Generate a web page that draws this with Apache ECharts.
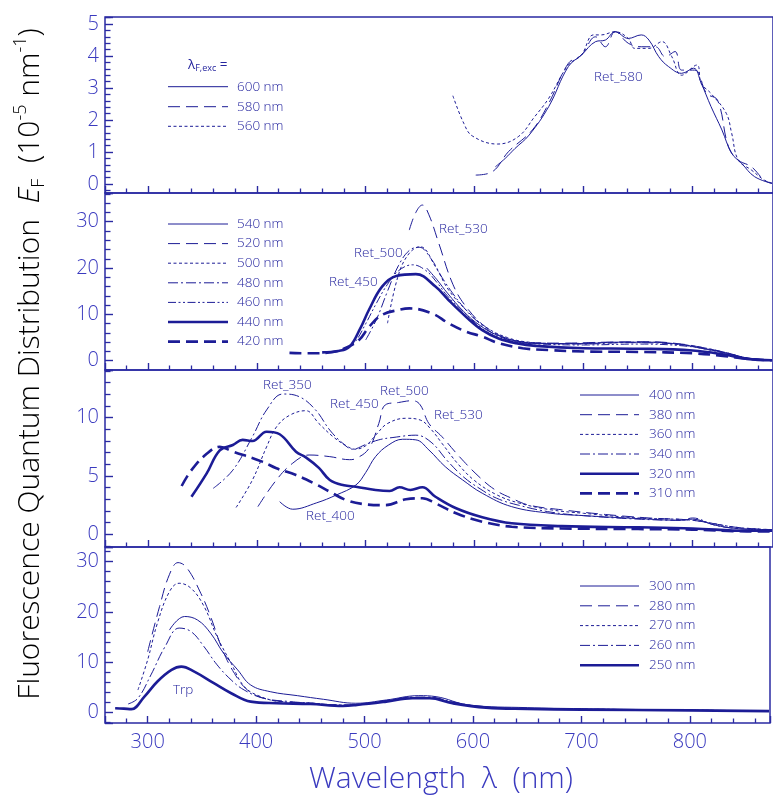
<!DOCTYPE html>
<html><head><meta charset="utf-8">
<script src="https://cdn.jsdelivr.net/npm/echarts@6/dist/echarts.min.js"></script>
<style>html,body{margin:0;padding:0;background:#fff}#c{width:773px;height:796px}</style>
</head><body><div id="c"></div>
<script>
// ---------- DATA (wavelength nm, E_F in 1e-5 nm^-1) ----------
const xTicks = [300, 400, 500, 600, 700, 800];
// Panel 1 (excitation 600 / 580 / 560 nm)
const p1_600 = [[619,0.54],[628,0.8],[637,1.11],[650,1.53],[668,2.42],[686,3.67],[698,4.03],[711,4.45],[720,4.5],[729,4.76],[741,4.55],[753,4.66],[760,4.5],[769,3.98],[778,3.67],[790,3.46],[801,3.62],[808,3.15],[817,2.42],[827,1.69],[836,0.96],[845,0.65],[857,0.23],[873,0.02]];
const p1_580 = [[601,0.28],[616,0.38],[631,1.01],[653,1.69],[668,2.52],[686,3.77],[698,4.03],[711,4.6],[720,4.29],[729,4.76],[741,4.4],[753,4.29],[766,4.29],[775,3.98],[784,4.14],[790,3.56],[802,3.56],[813,2.83],[823,2.62],[833,1.17],[842,0.75],[854,0.54],[866,0.12],[873,0.02]];
const p1_560 = [[580,2.76],[590,1.9],[598,1.5],[621,1.25],[640,1.48],[655,2.1],[668,2.68],[686,3.72],[698,4.03],[709,4.66],[716,4.66],[729,4.76],[741,4.55],[747,4.24],[760,4.24],[772,4.45],[781,3.98],[790,3.4],[804,3.72],[808,3.15],[817,2.83],[831,2.21],[836,1.58],[842,0.75],[854,0.44],[866,0.12],[873,0.03]];
// Panel 2 (excitation 540 ... 420 nm)
const p2_540 = [[556,20.0],[565,17.6],[575,14.6],[590,10.6],[605,7.6],[620,5.6],[640,4.2],[660,3.7],[700,3.7],[730,4.0],[760,4.0],[790,3.5],[810,2.6],[830,1.7],[850,0.6],[873,0.1]];
const p2_520 = [[540,28.2],[546,32.0],[552,33.6],[558,31.5],[567,25.4],[580,16.5],[592,11.7],[610,7.3],[630,4.8],[650,3.9],[680,3.8],[720,4.0],[760,4.1],[790,3.6],[810,2.8],[830,1.8],[850,0.6],[873,0.1]];
const p2_500 = [[520,8.1],[530,18.5],[540,23.2],[550,24.6],[564,20.3],[576,15.3],[592,11.0],[610,7.3],[630,5.0],[650,4.0],[680,3.7],[720,3.9],[760,4.0],[790,3.4],[810,2.6],[830,1.7],[850,0.5],[873,0.1]];
const p2_480 = [[500,4.5],[510,9.0],[520,15.0],[530,20.5],[540,23.8],[549,24.5],[560,22.0],[570,18.0],[580,14.5],[590,11.5],[600,9.0],[620,5.5],[640,4.2],[660,3.8],[700,3.6],[740,3.9],[770,3.8],[800,3.2],[830,1.8],[850,0.6],[873,0.1]];
const p2_460 = [[480,2.2],[490,4.0],[500,8.0],[510,12.5],[520,16.5],[530,19.4],[543,20.7],[555,19.5],[565,17.0],[575,14.0],[590,10.5],[605,7.3],[620,5.2],[640,4.0],[660,3.6],[700,3.4],[750,3.6],[800,3.0],[830,1.6],[850,0.5],[873,0.1]];
const p2_440 = [[460,1.8],[475,2.1],[485,3.0],[495,7.0],[503,11.0],[515,16.0],[528,18.3],[546,18.7],[564,16.0],[576,13.1],[592,9.5],[607,6.6],[622,4.8],[638,3.8],[656,3.2],[700,2.7],[750,2.6],[800,2.2],[830,1.3],[850,0.4],[873,0.1]];
const p2_420 = [[430,1.7],[450,1.6],[470,1.9],[482,2.8],[494,4.5],[503,7.3],[515,9.9],[531,11.0],[540,11.3],[561,10.2],[576,8.1],[592,6.3],[607,5.2],[622,3.8],[644,2.7],[668,2.3],[700,2.0],[750,1.9],[800,1.6],[830,1.0],[850,0.4],[873,0.1]];
// Panel 3 (excitation 400 ... 310 nm)
const p3_400 = [[421,2.8],[433,2.15],[455,2.7],[473,3.37],[491,4.23],[500,5.3],[509,6.66],[521,7.66],[534,8.15],[546,8.1],[558,7.23],[573,5.8],[589,4.66],[607,3.52],[634,2.37],[670,1.8],[700,1.6],[750,1.35],[790,1.2],[800,1.3],[820,0.8],[840,0.5],[873,0.35]];
const p3_380 = [[401,2.37],[418,4.66],[433,6.1],[448,6.8],[467,6.66],[485,6.4],[491,6.5],[503,7.37],[512,9.5],[518,11.1],[530,11.3],[543,11.46],[550,11.1],[558,9.5],[570,8.37],[586,6.66],[604,4.94],[619,3.8],[634,3.09],[650,2.5],[680,2.1],[720,1.7],[760,1.4],[800,1.2],[840,0.6],[873,0.4]];
const p3_360 = [[381,2.3],[396,4.66],[409,7.5],[418,9.2],[430,10.2],[445,10.6],[457,9.5],[470,8.37],[482,7.6],[490,7.3],[500,7.6],[510,8.6],[520,9.5],[537,9.95],[550,9.8],[560,9.0],[570,7.8],[585,6.0],[600,4.6],[620,3.4],[640,2.7],[670,2.1],[700,1.8],[750,1.4],[800,1.2],[840,0.6],[873,0.4]];
const p3_340 = [[360,3.94],[378,5.5],[396,8.37],[409,10.66],[424,12.03],[439,11.8],[454,10.66],[467,8.94],[479,7.8],[488,7.3],[500,7.7],[512,8.1],[525,8.3],[546,8.5],[560,7.9],[575,6.3],[590,4.9],[605,3.9],[620,3.1],[640,2.5],[670,1.9],[700,1.6],[750,1.3],[790,1.2],[800,1.4],[820,0.8],[840,0.5],[873,0.4]];
const p3_320 = [[340,3.22],[354,5.23],[366,7.2],[378,7.66],[387,8.1],[396,8.0],[409,8.8],[421,8.58],[436,7.08],[445,6.6],[457,5.7],[467,4.66],[480,4.2],[491,4.08],[509,3.8],[522,3.71],[531,4.03],[541,3.8],[552,4.03],[564,3.22],[583,2.23],[607,1.46],[634,0.94],[680,0.7],[750,0.6],[800,0.5],[850,0.3],[873,0.3]];
const p3_310 = [[331,4.14],[340,5.5],[354,6.9],[366,7.5],[378,7.1],[405,6.23],[418,5.66],[436,5.08],[454,4.3],[467,3.65],[482,2.94],[497,2.6],[518,2.5],[537,3.0],[552,3.09],[564,2.66],[583,1.8],[607,1.08],[634,0.65],[680,0.5],[750,0.45],[800,0.4],[850,0.25],[873,0.25]];
// Panel 4 (excitation 300 ... 250 nm)
const p4_300 = [[320,16.4],[334,19.1],[346,18.4],[358,15.8],[370,11.8],[383,8.5],[395,5.5],[413,4.17],[438,3.38],[462,2.66],[492,1.87],[520,2.52],[550,3.38],[566,3.18],[596,1.53],[650,1.0],[700,0.8],[800,0.5],[873,0.3]];
const p4_280 = [[300,12.1],[311,21.1],[320,27.4],[328,29.8],[336,28.8],[349,23.7],[358,19.1],[369,12.5],[380,7.8],[392,4.5],[407,2.86],[425,2.19],[450,1.9],[480,1.5],[492,1.6],[520,2.3],[545,3.0],[560,3.0],[580,2.1],[610,1.1],[650,0.8],[700,0.7],[800,0.5],[873,0.35]];
const p4_270 = [[291,4.5],[300,10.5],[309,17.8],[320,24.0],[329,25.7],[340,24.7],[352,21.1],[364,15.1],[377,9.8],[389,5.2],[404,3.2],[422,2.2],[450,1.9],[480,1.5],[492,1.6],[520,2.3],[545,3.0],[560,3.0],[580,2.1],[610,1.1],[650,0.8],[700,0.7],[800,0.5],[873,0.35]];
const p4_260 = [[282,1.73],[291,2.86],[303,7.5],[316,13.1],[329,16.8],[340,16.1],[352,13.1],[364,9.5],[377,6.5],[389,4.5],[407,2.86],[432,2.19],[450,1.9],[480,1.5],[492,1.6],[520,2.4],[545,3.1],[560,3.1],[580,2.2],[610,1.1],[650,0.8],[700,0.7],[800,0.5],[873,0.35]];
const p4_250 = [[270,0.87],[278,0.8],[285,0.7],[297,3.2],[309,6.2],[322,8.5],[331,9.15],[343,8.15],[361,5.85],[377,3.86],[395,2.19],[419,1.87],[450,1.73],[480,1.33],[493,1.53],[520,2.19],[544,2.86],[560,2.86],[581,1.87],[612,1.0],[650,0.75],[700,0.6],[800,0.45],[873,0.3]];

const panel1Labels = ['600 nm','580 nm','560 nm'];
const panel2Labels = ['540 nm','520 nm','500 nm','480 nm','460 nm','440 nm','420 nm'];
const panel3Labels = ['400 nm','380 nm','360 nm','340 nm','320 nm','310 nm'];
const panel4Labels = ['300 nm','280 nm','270 nm','260 nm','250 nm'];

// ---------- STYLE ----------
const LINE = '#1c1c96', TXT = '#24249e', AX = '#3a3abf', FRAME = '#2a2aa2';
const FONT = '"Open Sans", "Liberation Sans", sans-serif';
const STY = {
  thin:      {width: 1,   type: 'solid'},
  longdash:  {width: 1,   type: [12, 6]},
  shortdash: {width: 1,   type: [3, 2.5]},
  dashdot:   {width: 1,   type: [10, 3, 2, 3]},
  dashdotdot:{width: 1,   type: [8, 2.5, 2, 2.5, 2, 2.5]},
  thick:     {width: 2.6, type: 'solid'},
  thickdash: {width: 2.6, type: [12, 6]}
};
const panels = [
  {data:[p1_600,p1_580,p1_560], labels: panel1Labels, sty:['thin','longdash','shortdash'],
   min:-0.28, max:5.22, step:1},
  {data:[p2_540,p2_520,p2_500,p2_480,p2_460,p2_440,p2_420], labels: panel2Labels,
   sty:['thin','longdash','shortdash','dashdot','dashdotdot','thick','thickdash'],
   min:-2.0, max:36.2, step:10},
  {data:[p3_400,p3_380,p3_360,p3_340,p3_320,p3_310], labels: panel3Labels,
   sty:['thin','longdash','shortdash','dashdot','thick','thickdash'],
   min:-1.09, max:14.09, step:5},
  {data:[p4_300,p4_280,p4_270,p4_260,p4_250], labels: panel4Labels,
   sty:['thin','longdash','shortdash','dashdot','thick'],
   min:-2.05, max:32.9, step:10}
];
const gridTops = [17, 193, 370, 547], gridH = [176, 177, 177, 176];
const GL = 105, XMIN = 260.64, XMAX = 873.9, XSTEP = 100;

const grid = [], xAxis = [], yAxis = [], series = [];
panels.forEach((p, i) => {
  grid.push({left: GL, right: -2, top: gridTops[i], height: gridH[i], show: true,
    borderColor: FRAME, borderWidth: 1.5, backgroundColor: 'transparent'});
  const bottom = i === 3;
  xAxis.push({type:'value', gridIndex:i, position:'bottom', min:XMIN, max:XMAX, minInterval:XSTEP, maxInterval:XSTEP,
    axisLine:{show:false, onZero:false}, splitLine:{show:false},
    axisTick:{show:true, inside:true, length:7, lineStyle:{color:FRAME, width:1.4}},
    minorTick:{show:true, splitNumber:5, length:4.5, lineStyle:{color:FRAME, width:1.3}},
    minorSplitLine:{show:false},
    axisLabel:{show:bottom, margin:9, fontSize:20, color:AX, fontFamily:FONT, fontWeight:300,
      formatter: v => xTicks.includes(Math.round(v)) && Math.abs(v-Math.round(v))<1e-6 ? String(Math.round(v)) : ''}});
  yAxis.push({type:'value', gridIndex:i, position:'left', min:p.min, max:p.max, minInterval:p.step, maxInterval:p.step,
    axisLine:{show:false, onZero:false}, splitLine:{show:false},
    axisTick:{show:true, inside:true, length:8, lineStyle:{color:FRAME, width:1.4}},
    minorTick:{show:true, splitNumber:5, length:5.5, lineStyle:{color:FRAME, width:1.3}},
    minorSplitLine:{show:false},
    axisLabel:{margin:6, fontSize:20, color:AX, fontFamily:FONT, fontWeight:300,
      formatter: v => Math.abs(v/p.step - Math.round(v/p.step)) < 1e-6 ? String(Math.round(v)) : ''}});
  p.data.forEach((d, k) => {
    const s = STY[p.sty[k]];
    series.push({type:'line', name: 'P' + (i+1) + ' ' + p.labels[k], xAxisIndex:i, yAxisIndex:i,
      data:d, showSymbol:false, symbol:'none', smooth:0.4, silent:true,
      z: 3, lineStyle:{color:LINE, width:s.width, type:s.type}});
  });
});

// ---------- decorations: legends, annotations, axis titles ----------
const graphic = [];
function legend(labels, styles, x1, x2, tx, ys) {
  labels.forEach((lab, k) => {
    const s = STY[styles[k]];
    graphic.push({type:'line', shape:{x1:x1, y1:ys[k], x2:x2, y2:ys[k]},
      style:{stroke:LINE, lineWidth:s.width, lineDash: s.type === 'solid' ? null : s.type}});
    graphic.push({type:'text', x:tx, y:ys[k], style:{text:lab, fill:TXT, font:'300 13.5px ' + FONT,
      verticalAlign:'middle', align:'left'}});
  });
}
legend(panels[0].labels, panels[0].sty, 168, 228, 237, [86.7,106.7,126.3]);
legend(panels[1].labels, panels[1].sty, 168, 228, 237, [224,243.6,263.2,282.8,302.4,322,341.6]);
legend(panels[2].labels, panels[2].sty, 580, 639, 649, [395,414.7,434.4,454,473.7,493.4]);
legend(panels[3].labels, panels[3].sty, 580, 639, 649, [586,605.8,625.6,645.4,665.2]);

graphic.push({type:'text', x:188, y:65, style:{
  text:'{a|λ}{s|F,exc}{a| =}', verticalAlign:'middle', align:'left',
  rich:{a:{fontSize:13.5, fontFamily:FONT, fill:TXT, color:TXT, lineHeight:16},
        s:{fontSize:9, fontFamily:FONT, fill:TXT, color:TXT, verticalAlign:'bottom', lineHeight:12}}}});

const notes = [
  ['Ret_580', 594, 77], ['Ret_530', 439, 229], ['Ret_500', 354, 253], ['Ret_450', 329, 282],
  ['Ret_350', 263, 385], ['Ret_450', 330, 404], ['Ret_500', 380, 391], ['Ret_530', 434, 415],
  ['Ret_400', 306, 516], ['Trp', 173, 690]
];
notes.forEach(n => graphic.push({type:'text', x:n[1], y:n[2], style:{text:n[0], fill:TXT,
  font:'300 13.5px ' + FONT, verticalAlign:'middle', align:'left'}}));

graphic.push({type:'text', x:441, y:779, style:{text:'Wavelength  λ  (nm)', fill:AX,
  font:'300 30px ' + FONT, align:'center', verticalAlign:'middle'}});
graphic.push({type:'text', x:30, y:364, rotation:Math.PI/2, style:{
  text:'{a|Fluorescence Quantum Distribution  }{i|E}{s|F}{a|  (10}{p|-5}{a| nm}{p|-1}{a|)}',
  align:'center', verticalAlign:'middle',
  rich:{a:{fontSize:30, fontFamily:FONT, fontWeight:300, color:AX, lineHeight:36},
        i:{fontSize:30, fontFamily:FONT, fontWeight:300, fontStyle:'italic', color:AX, lineHeight:36},
        s:{fontSize:18, fontFamily:FONT, fontWeight:300, color:AX, verticalAlign:'bottom', lineHeight:24},
        p:{fontSize:18, fontFamily:FONT, fontWeight:300, color:AX, verticalAlign:'top', lineHeight:24}}}});

const chart = echarts.init(document.getElementById('c'), null, {renderer:'canvas'});
chart.setOption({animation:false, backgroundColor:'#fff', grid, xAxis, yAxis, series, graphic});
</script></body></html>
